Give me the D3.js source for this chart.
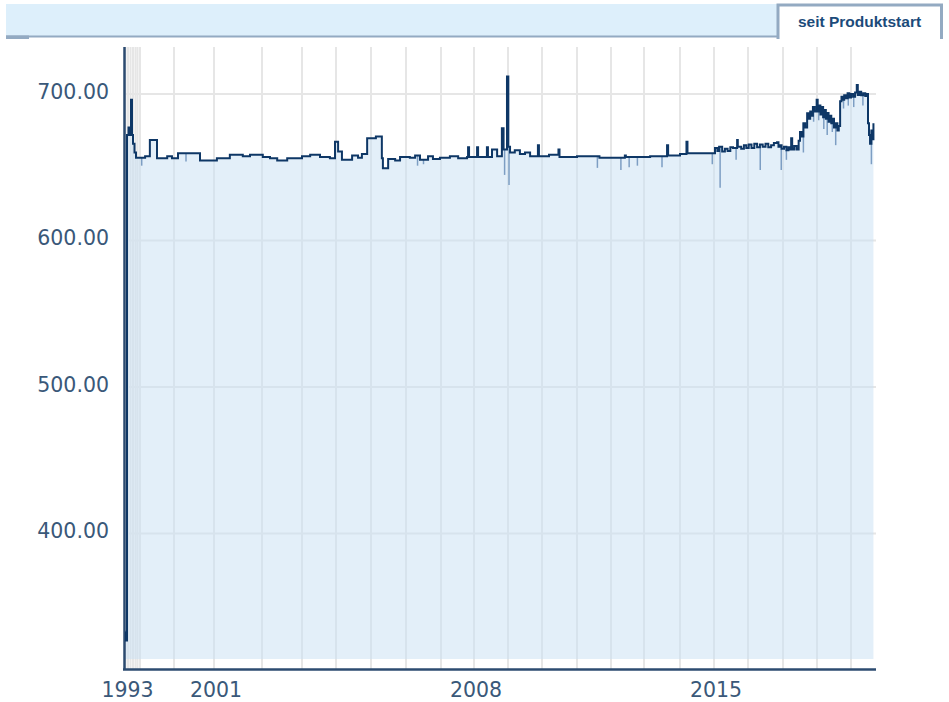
<!DOCTYPE html>
<html>
<head>
<meta charset="utf-8">
<script src="https://cdn.jsdelivr.net/npm/d3@7"></script>
<style>
body { margin: 0; background: #fff; }
</style>
</head>
<body>
<svg id="chart" width="949" height="702"></svg>
<script>
// price series: [decimal year, value]
var prices = [
    [1993.0, 333], [1993.2, 327], [1993.6, 672], [1994.2, 677], [1994.8, 672], [1995.2, 696],
    [1995.6, 672], [1996.0, 666], [1996.6, 660], [1997.25, 656.5], [1999.15, 657.5], [1999.29, 668.6],
    [1999.5, 656], [1999.8, 657.5], [1999.94, 656], [2000.1, 659.5], [2000.65, 654.5], [2001.06, 656],
    [2001.33, 658.5], [2001.6, 657.5], [2001.75, 658.5], [2002.02, 657], [2002.2, 656], [2002.38, 654.5],
    [2002.63, 656], [2003.0, 657.5], [2003.24, 658.5], [2003.53, 657], [2003.82, 656], [2003.97, 667.4],
    [2004.06, 660.6], [2004.17, 655], [2004.46, 658], [2004.63, 656.5], [2004.74, 659], [2004.89, 669.7],
    [2005.14, 671], [2005.31, 656], [2005.34, 649.3], [2005.49, 655.6], [2005.69, 654.5], [2005.83, 657],
    [2006.11, 656.5], [2006.26, 658], [2006.4, 655], [2006.63, 657.5], [2006.77, 655.5], [2006.97, 656.5],
    [2007.27, 657.5], [2007.52, 656], [2007.79, 657], [2007.82, 663.6], [2007.85, 657], [2008.09, 663.6],
    [2008.12, 657], [2008.38, 663.6], [2008.41, 657], [2008.53, 662], [2008.68, 657.5], [2008.82, 676.6],
    [2008.87, 662], [2008.97, 711.8], [2009.01, 664], [2009.06, 660], [2009.2, 661.5], [2009.35, 659],
    [2009.5, 660], [2009.65, 657.5], [2009.88, 665], [2009.91, 657.5], [2010.2, 658.5], [2010.47, 662],
    [2010.5, 657], [2011.0, 657.5], [2011.66, 656.5], [2012.42, 658], [2012.45, 657], [2013.17, 657.5],
    [2013.64, 665], [2013.67, 658], [2014.0, 659], [2014.19, 667.4], [2014.22, 659.5],
    [2015.03, 663], [2015.1, 661], [2015.15, 664], [2015.24, 660.6], [2015.32, 662.5], [2015.4, 661],
    [2015.48, 663.5], [2015.56, 663], [2015.68, 668.6], [2015.7, 664], [2015.8, 662.5], [2015.88, 665],
    [2015.95, 663], [2016.02, 665.5], [2016.1, 663], [2016.18, 666], [2016.26, 663.5], [2016.34, 665.5],
    [2016.42, 664], [2016.5, 666], [2016.58, 663.5], [2016.66, 665], [2016.74, 666.5], [2016.83, 667],
    [2016.87, 664], [2016.91, 665], [2016.96, 662.5], [2017.03, 664], [2017.1, 661.5], [2017.16, 663.5],
    [2017.21, 662], [2017.24, 669.7], [2017.27, 662], [2017.33, 664.5], [2017.4, 662], [2017.46, 668],
    [2017.5, 674], [2017.55, 671], [2017.6, 680], [2017.65, 677], [2017.71, 686.8], [2017.75, 683],
    [2017.8, 688], [2017.85, 685], [2017.88, 691], [2017.93, 688], [2017.99, 696], [2018.02, 688],
    [2018.06, 692], [2018.1, 686], [2018.14, 691], [2018.18, 684], [2018.22, 689], [2018.26, 683],
    [2018.3, 687], [2018.34, 681], [2018.38, 685], [2018.42, 680], [2018.46, 683], [2018.5, 677],
    [2018.55, 680], [2018.6, 675], [2018.64, 678], [2018.68, 695], [2018.72, 698], [2018.76, 696],
    [2018.8, 699], [2018.85, 697], [2018.9, 700.5], [2018.95, 697.5], [2019.0, 700], [2019.06, 698],
    [2019.12, 701], [2019.17, 706], [2019.2, 699.3], [2019.25, 701.5], [2019.3, 699], [2019.36, 700.5],
    [2019.42, 698.5], [2019.47, 700], [2019.5, 680], [2019.53, 672], [2019.56, 666], [2019.6, 675],
    [2019.64, 669], [2019.66, 680]
]
// short intraday lows drawn as faint spikes under the line
var dips = [
    [1999.05, 651], [2000.3, 653.8], [2006.33, 651], [2006.5, 652], [2008.9, 644.7], [2009.03, 637.9],
    [2011.6, 649.5], [2012.3, 648], [2012.55, 650], [2012.8, 651], [2013.5, 650], [2014.95, 652],
    [2015.18, 636], [2015.65, 655], [2016.35, 648], [2016.95, 648], [2017.1, 655], [2017.6, 660],
    [2017.9, 681], [2018.05, 682], [2018.2, 676], [2018.3, 672], [2018.45, 674], [2018.55, 665],
    [2018.78, 690], [2018.92, 692], [2019.08, 691], [2019.35, 692], [2019.6, 652]
]
var gridYears = d3.range(1993, 2020)
var labelYears = [1993, 2001, 2008, 2015]
var yTicks = [400, 500, 600, 700]
var tabLabel = "seit Produktstart"

const LEFT = 124.5
const RIGHT = 876
const TOP = 47
const BOTTOM = 669
const AXIS_COLOR = "#2c4b70"
const TEXT_COLOR = "#3a5879"

var svg = d3.select("#chart")

// x axis is not linear in time: early years are squeezed together
var x = d3.scaleLinear()
    .domain([1993, 1994, 1995, 1996, 1997, 1998, 1999, 2000, 2001, 2002, 2003, 2004, 2005, 2006, 2007,
             2008, 2009, 2010, 2011, 2012, 2013, 2014, 2015, 2016, 2017, 2018, 2019, 2020])
    .range([125.5, 128, 130.5, 133, 135.5, 137.5, 140, 174, 214, 262, 302, 336, 371, 406, 441,
            474, 508, 542, 577, 611, 644, 680, 714, 748, 783, 817, 851, 885])

var y = d3.scaleLinear()
    .domain([307.5, 732])
    .range([BOTTOM, TOP])
const AREA_BASE = 314.3

// header bar + tab
svg.append("rect").attr("x", 6).attr("y", 4).attr("width", 771).attr("height", 33).attr("fill", "#ddeffb")
svg.append("rect").attr("x", 6).attr("y", 35.5).attr("width", 771).attr("height", 2).attr("fill", "#93aac2")
svg.append("rect").attr("x", 6).attr("y", 35.5).attr("width", 23).attr("height", 3.5).attr("fill", "#93aac2")
svg.append("rect").attr("x", 778).attr("y", 5).attr("width", 163.5).attr("height", 34).attr("fill", "#fff")
svg.append("path")
    .attr("d", "M778,39V5H941.5V39")
    .attr("fill", "none")
    .attr("stroke", "#93aac2")
    .attr("stroke-width", 3)
svg.append("text")
    .attr("x", 859.5)
    .attr("y", 27)
    .attr("text-anchor", "middle")
    .attr("font-family", "'Liberation Sans', Arial, sans-serif")
    .attr("font-weight", "bold")
    .attr("font-size", 15.5)
    .attr("fill", "#1c4b7a")
    .text(tabLabel)

// grid
var grid = svg.append("g").attr("stroke", "#e6e6e6").attr("stroke-width", 2)
grid.selectAll("line.v").data(gridYears).enter().append("line")
    .attr("class", "v")
    .attr("x1", d => x(d)).attr("x2", d => x(d))
    .attr("y1", TOP).attr("y2", BOTTOM)
grid.selectAll("line.h").data(yTicks).enter().append("line")
    .attr("class", "h")
    .attr("x1", LEFT).attr("x2", RIGHT)
    .attr("y1", d => y(d)).attr("y2", d => y(d))

// filled area under the line
var area = d3.area()
    .curve(d3.curveStepAfter)
    .x(d => x(d[0]))
    .y0(y(AREA_BASE))
    .y1(d => y(d[1]))
svg.append("path")
    .datum(prices)
    .attr("d", area)
    .attr("fill", "rgb(199,223,243)")
    .attr("fill-opacity", 0.5)

// faint spikes
var bis = d3.bisector(d => d[0]).right
svg.append("g").selectAll("line").data(dips).enter().append("line")
    .attr("x1", d => x(d[0])).attr("x2", d => x(d[0]))
    .attr("y1", d => y(prices[Math.max(0, bis(prices, d[0]) - 1)][1]))
    .attr("y2", d => y(d[1]))
    .attr("stroke", "#7d9ec3")
    .attr("stroke-width", 1.5)

// axes
svg.append("line").attr("x1", LEFT).attr("x2", LEFT).attr("y1", TOP).attr("y2", BOTTOM)
    .attr("stroke", AXIS_COLOR).attr("stroke-width", 2.5)
svg.append("line").attr("x1", 123).attr("x2", RIGHT).attr("y1", BOTTOM + 0.5).attr("y2", BOTTOM + 0.5)
    .attr("stroke", AXIS_COLOR).attr("stroke-width", 2.5)

// the price line
var line = d3.line()
    .curve(d3.curveStepAfter)
    .x(d => x(d[0]))
    .y(d => y(d[1]))
svg.append("path")
    .datum(prices)
    .attr("d", line)
    .attr("fill", "none")
    .attr("stroke", "#0e3766")
    .attr("stroke-width", 2)

// tick labels
svg.append("g").selectAll("text").data(yTicks).enter().append("text")
    .attr("x", 109)
    .attr("y", d => y(d) + 5)
    .attr("text-anchor", "end")
    .attr("font-family", "'DejaVu Sans', Verdana, sans-serif")
    .attr("font-size", 20.5)
    .attr("fill", TEXT_COLOR)
    .text(d => d3.format(".2f")(d))
svg.append("g").selectAll("text").data(labelYears).enter().append("text")
    .attr("x", d => x(d) + 2)
    .attr("y", 697)
    .attr("text-anchor", "middle")
    .attr("font-family", "'DejaVu Sans', Verdana, sans-serif")
    .attr("font-size", 20.5)
    .attr("fill", TEXT_COLOR)
    .text(d => d)
</script>
</body>
</html>
